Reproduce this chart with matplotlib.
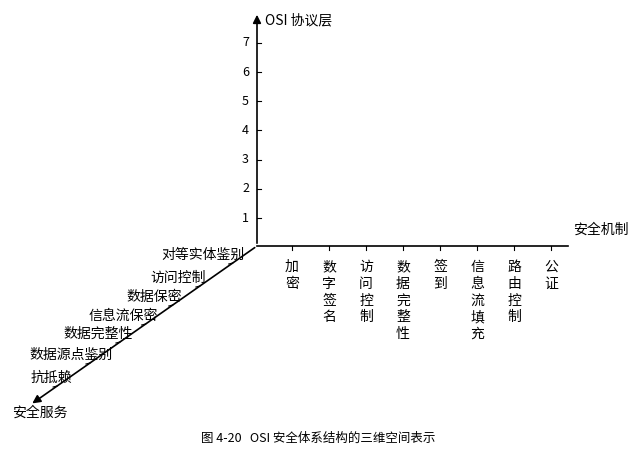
import matplotlib
matplotlib.use("Agg")
import matplotlib.pyplot as plt

plt.rcParams['font.family'] = ['Noto Sans CJK SC', 'DejaVu Sans']

layers = [1, 2, 3, 4, 5, 6, 7]
mechanisms = ["加密", "数字签名", "访问控制", "数据完整性", "签到", "信息流填充", "路由控制", "公证"]
services = ["对等实体鉴别", "访问控制", "数据保密", "信息流保密", "数据完整性", "数据源点鉴别", "抗抵赖"]
caption = "图 4-20   OSI 安全体系结构的三维空间表示"

fig = plt.figure(figsize=(6.37, 4.57), dpi=100)
ax = fig.add_axes([0, 0, 1, 1])
ax.set_xlim(0, 637); ax.set_ylim(457, 0); ax.axis('off')

ox, oy = 257, 246
k = dict(color='black', lw=1.2)
ax.annotate("", xy=(ox, 12), xytext=(ox, oy), arrowprops=dict(arrowstyle='-|>', color='black', lw=1.2, mutation_scale=12))
ax.text(265, 20, "OSI 协议层", fontsize=10, va='center', ha='left')
for i, L in enumerate(layers):
    y = oy - 28 - i * 29.2
    ax.plot([ox, ox + 4], [y, y], color='black', lw=0.8)
    ax.text(ox - 8, y, str(L), fontsize=9, ha='right', va='center')
ax.plot([ox, 568], [oy, oy], **k)
ax.text(573, 230, "安全机制", fontsize=10, ha='left', va='center')
for i, m in enumerate(mechanisms):
    x = 292 + i * 37
    ax.plot([x, x], [oy, oy + 4], color='black', lw=0.8)
    ax.text(x, 260, "\n".join(m), fontsize=10, ha='center', va='top', linespacing=1.25)
ex, ey = 30, 405
ax.annotate("", xy=(ex, ey), xytext=(ox, oy), arrowprops=dict(arrowstyle='-|>', color='black', lw=1.2, mutation_scale=12))
ax.text(12, 413, "安全服务", fontsize=10, ha='left', va='center')
lab_y = [255, 278, 297, 316, 334, 355, 378]
lab_x = [245, 206, 182, 158, 133, 113, 72]
for s, x, y in zip(services, lab_x, lab_y):
    t = (y + 8 - oy) / (ey - oy)
    xd = ox + t * (ex - ox)
    ax.plot([xd, xd - 4], [y + 8, y + 9], color='black', lw=0.8)
    ax.text(x, y, s, fontsize=10, ha='right', va='center')
ax.text(318, 438, caption, fontsize=9, ha='center', va='center')
fig.savefig("out.png", dpi=100)
